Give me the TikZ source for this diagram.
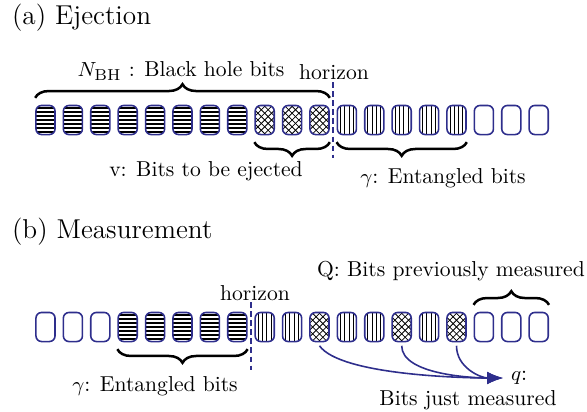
\documentclass[tikz,border=0pt]{standalone}
\usetikzlibrary{arrows.meta,decorations.pathreplacing}
\definecolor{bitblue}{RGB}{46,46,140}
\tikzset{
  bit/.style={draw=bitblue, line width=0.7pt, rounded corners=2.5pt,
    minimum width=8.4pt, minimum height=12.8pt, inner sep=0pt},
  ebit/.style={bit},
  hbit/.style={bit, path picture={
    \foreach \k in {-3,...,3}
      \draw[black, line width=0.8pt] ([yshift=\k*1.8pt]path picture bounding box.west)
        -- ([yshift=\k*1.8pt]path picture bounding box.east);}},
  vbit/.style={bit, path picture={
    \foreach \k in {-1.5,-0.5,0.5,1.5}
      \draw[black, line width=0.45pt] ([xshift=\k*1.9pt]path picture bounding box.north)
        -- ([xshift=\k*1.9pt]path picture bounding box.south);}},
  xbit/.style={bit, path picture={
    \foreach \k in {-4,...,4} {
      \draw[black, line width=0.35pt] ([shift={(\k*3pt-8pt,-8pt)}]path picture bounding box.center) -- ++(16pt,16pt);
      \draw[black, line width=0.35pt] ([shift={(\k*3pt-8pt,8pt)}]path picture bounding box.center) -- ++(16pt,-16pt);}}},
  lbl/.style={font=\fontsize{9.5}{11}\selectfont},
  brc/.style={decorate, decoration={brace,amplitude=6pt}, line width=1.1pt},
  horizonline/.style={bitblue, line width=0.7pt, dash pattern=on 2.5pt off 1.5pt},
  flow/.style={bitblue, line width=0.7pt, -{Latex[length=7pt,width=5.5pt]}},
}
\begin{document}
\begin{tikzpicture}[x=0.44pt,y=-0.44pt]
\useasboundingbox (0,0) rectangle (587,411);

% (a) ejection
\node[anchor=west, font=\large] (titlea) at (4,18) {(a) Ejection};
\foreach \kind [count=\i] in {hbit,hbit,hbit,hbit,hbit,hbit,hbit,hbit,xbit,xbit,xbit,
                             vbit,vbit,vbit,vbit,vbit,ebit,ebit,ebit}
  \node[\kind] (a\i) at ({45.5+27.4*(\i-1)},120) {};

\coordinate[label={[lbl]center:horizon}] (hza) at (334,72);
\coordinate (hzatop) at (333,82);
\coordinate (hzabot) at (333,158);
\draw[horizonline] (hzatop) -- (hzabot);

\draw[brc] ([yshift=3pt]a1.north west) -- ([yshift=3pt]a11.north east);
\node[lbl] (bhbits) at (181,71) {$N_{\mathrm{BH}}$ : Black hole bits};
\draw[brc] ([yshift=-3pt]a11.south east) -- ([yshift=-3pt]a9.south west);
\node[lbl] (ejected) at (206,171) {v: Bits to be ejected};
\draw[brc] ([yshift=-3pt]a16.south east) -- ([yshift=-3pt]a12.south west);
\node[lbl] (entangleda) at (443,178) {$\gamma$: Entangled bits};

% (b) measurement
\node[anchor=west, font=\large] (titleb) at (4,232) {(b) Measurement};
\foreach \kind [count=\i] in {ebit,ebit,ebit,hbit,hbit,hbit,hbit,hbit,vbit,vbit,xbit,
                             vbit,vbit,xbit,vbit,xbit,ebit,ebit,ebit}
  \node[\kind] (b\i) at ({45.5+27.4*(\i-1)},327) {};

\coordinate[label={[lbl]center:horizon}] (hzb) at (255,293);
\coordinate (hzbtop) at (251,302);
\coordinate (hzbbot) at (251,370);
\draw[horizonline] (hzbtop) -- (hzbbot);

\draw[brc] ([yshift=3pt]b17.north west) -- ([yshift=3pt]b19.north east);
\node[lbl] (previous) at (451,271) {Q: Bits previously measured};
\draw[brc] ([yshift=-3pt]b8.south east) -- ([yshift=-3pt]b4.south west);
\node[lbl] (entangledb) at (155,386) {$\gamma$: Entangled bits};

\coordinate (qtip) at (503,378);
\draw[flow] ([yshift=-1.5pt]b11.south) to[out=-55,in=180,looseness=0.5] (qtip);
\draw[flow] ([yshift=-1.5pt]b14.south) to[out=-90,in=180,looseness=0.7] (qtip);
\draw[flow] ([yshift=-1.5pt]b16.south) to[out=-90,in=180] (qtip);
\node[lbl, anchor=west] (qlabel) at (qtip) {$q$:};
\node[lbl] (justmeasured) at (468,400) {Bits just measured};
\end{tikzpicture}
\end{document}
